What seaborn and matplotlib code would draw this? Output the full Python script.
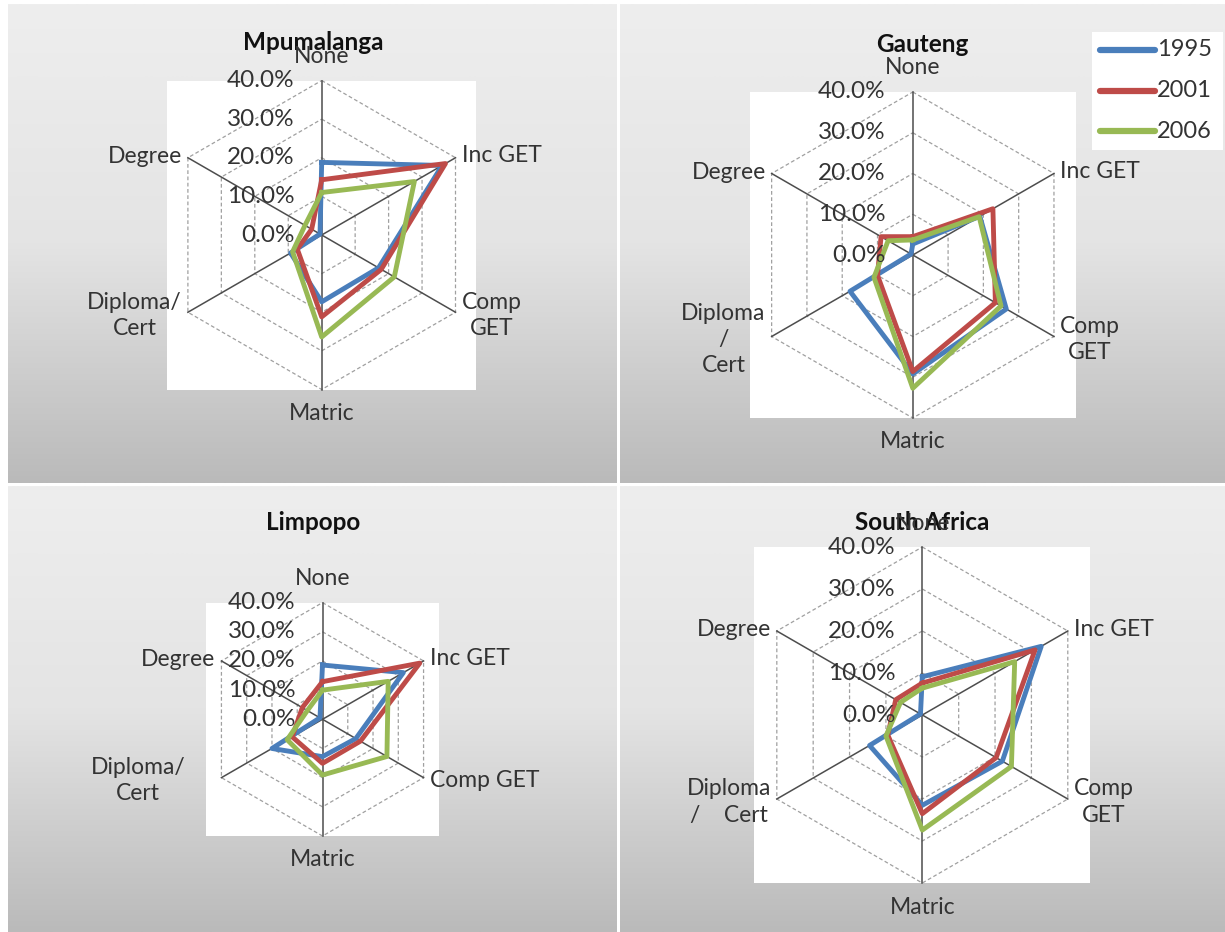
import numpy as np
import pandas as pd
import matplotlib
matplotlib.use("Agg")
import matplotlib.pyplot as plt
import seaborn as sns
from matplotlib.colors import LinearSegmentedColormap
from matplotlib.patches import Rectangle
from matplotlib.lines import Line2D

# ---- data: share of population by highest education level (%) ----
categories = ["None", "Inc GET", "Comp GET", "Matric", "Diploma/Cert", "Degree"]
years = ["1995", "2001", "2006"]
series_colors = ["#4A7EBB", "#BE4B48", "#98B954"]
radial_ticks = [0.0, 10.0, 20.0, 30.0, 40.0]

mpumalanga_1995 = [18.8, 36.0, 17.0, 17.3, 9.3, 0.5]
mpumalanga_2001 = [14.3, 37.0, 17.8, 21.2, 7.3, 3.0]
mpumalanga_2006 = [11.0, 27.7, 21.7, 26.4, 8.7, 5.0]

gauteng_1995 = [2.7, 19.0, 26.5, 29.2, 17.8, 0.5]
gauteng_2001 = [4.5, 22.7, 23.4, 28.6, 10.0, 9.0]
gauteng_2006 = [3.7, 18.8, 25.0, 32.7, 11.0, 7.0]

limpopo_1995 = [18.6, 32.0, 13.2, 12.8, 20.0, 1.0]
limpopo_2001 = [12.9, 38.5, 15.0, 15.1, 12.0, 8.0]
limpopo_2006 = [10.0, 26.0, 25.5, 19.1, 14.0, 6.0]

sa_1995 = [9.1, 32.7, 22.0, 21.5, 14.5, 0.5]
sa_2001 = [7.6, 31.0, 20.3, 23.5, 9.5, 7.3]
sa_2006 = [6.4, 25.4, 24.5, 27.4, 10.0, 6.0]

W, H = 1225, 932
plt.rcParams["font.family"] = ["Lato", "DejaVu Sans"]
TEXT = "#333333"

fig = plt.figure(figsize=(W / 100, H / 100), dpi=100)

# background layer in pixel coordinates
bg = fig.add_axes([0, 0, 1, 1], zorder=-5)
bg.set_xlim(0, W)
bg.set_ylim(H, 0)
bg.axis("off")

grad_cmap = LinearSegmentedColormap.from_list("panel", ["#eeeeee", "#e4e4e4", "#bababa"])
grad = np.linspace(0, 1, 256).reshape(-1, 1)
panel_boxes = [(8, 4, 617, 483), (620, 4, 1225, 483), (8, 486, 617, 932), (620, 486, 1225, 932)]
for (x0, y0, x1, y1) in panel_boxes:
    bg.imshow(grad, cmap=grad_cmap, aspect="auto", extent=(x0, x1, y1, y0),
              interpolation="bilinear", zorder=0)

panels = [
    dict(title="Mpumalanga", values=[mpumalanga_1995, mpumalanga_2001, mpumalanga_2006],
         center=(321.7, 235.0), radius=154.5, title_xy=(313, 43),
         comp="Comp\nGET", dip="Diploma/\nCert", dip_dx=-6),
    dict(title="Gauteng", values=[gauteng_1995, gauteng_2001, gauteng_2006],
         center=(912.8, 255.0), radius=163.0, title_xy=(922, 44),
         comp="Comp\nGET", dip="Diploma\n/\nCert", dip_dx=-6),
    dict(title="Limpopo", values=[limpopo_1995, limpopo_2001, limpopo_2006],
         center=(322.5, 719.3), radius=116.7, title_xy=(313, 523),
         comp="Comp GET", dip="Diploma/\nCert", dip_dx=-36),
    dict(title="South Africa", values=[sa_1995, sa_2001, sa_2006],
         center=(922.3, 715.0), radius=168.0, title_xy=(922, 523),
         comp="Comp\nGET", dip="Diploma\n/    Cert", dip_dx=-6),
]

n = len(categories)
theta = np.arange(n) * 2 * np.pi / n
theta_closed = np.append(theta, 2 * np.pi)
rmax = radial_ticks[-1] / 100

for p in panels:
    cx, cy = p["center"]
    R = p["radius"]
    # white plot area
    bg.add_patch(Rectangle((cx - R, cy - R), 2 * R, 2 * R, facecolor="white",
                           edgecolor="none", zorder=1))
    bg.text(p["title_xy"][0], p["title_xy"][1], p["title"], ha="center", va="center",
            fontsize=17.5, fontweight="bold", color="#111111", zorder=3)

    ax = fig.add_axes([(cx - R) / W, (H - (cy + R)) / H, 2 * R / W, 2 * R / H],
                      projection="polar")
    ax.set_facecolor("none")
    ax.set_theta_zero_location("N")
    ax.set_theta_direction(-1)
    ax.grid(False)
    ax.spines["polar"].set_visible(False)

    # hexagonal gridlines and spokes
    for t in radial_ticks[1:]:
        ax.plot(theta_closed, [t / 100] * (n + 1), color="#a0a0a0", lw=0.9,
                ls=(0, (3, 2)), clip_on=False, zorder=1)
    for th in theta:
        ax.plot([th, th], [0, rmax], color="#4d4d4d", lw=1.1, clip_on=False, zorder=2)

    # series polygons
    rows = []
    for year, vals in zip(years, p["values"]):
        closed = list(vals) + [vals[0]]
        for th, v in zip(theta_closed, closed):
            rows.append({"theta": th, "share": v / 100, "year": year})
    df = pd.DataFrame(rows)
    sns.lineplot(data=df, x="theta", y="share", hue="year", hue_order=years,
                 palette=series_colors, sort=False, estimator=None, legend=False,
                 linewidth=3.5, ax=ax)
    for ln in ax.lines[-len(years):]:
        ln.set_clip_on(False)
        ln.set_zorder(3)
    ax.set_xlabel("")
    ax.set_ylabel("")
    ax.set_xticks([])
    ax.set_yticks([])
    ax.set_ylim(0, rmax)

    # radial value labels
    for t in radial_ticks:
        ax.annotate(f"{t:.1f}%", xy=(0, t / 100), xytext=(-27, 0),
                    textcoords="offset pixels", ha="right", va="center",
                    fontsize=17.5, color=TEXT, annotation_clip=False)

    # category labels
    lab_kw = dict(textcoords="offset pixels", fontsize=16.5, color=TEXT,
                  multialignment="center", linespacing=1.3, annotation_clip=False)
    ax.annotate(categories[0], xy=(theta[0], rmax), xytext=(0, 24), ha="center", va="center", **lab_kw)
    ax.annotate(categories[1], xy=(theta[1], rmax), xytext=(6, 2), ha="left", va="center", **lab_kw)
    ax.annotate(p["comp"], xy=(theta[2], rmax), xytext=(6, -3), ha="left", va="center", **lab_kw)
    ax.annotate(categories[3], xy=(theta[3], rmax), xytext=(0, -24), ha="center", va="center", **lab_kw)
    ax.annotate(p["dip"], xy=(theta[4], rmax), xytext=(p["dip_dx"], -3), ha="right", va="center", **lab_kw)
    ax.annotate(categories[5], xy=(theta[5], rmax), xytext=(-6, 1), ha="right", va="center", **lab_kw)

# legend box in the Gauteng panel
bg.add_patch(Rectangle((1092, 32), 131, 118, facecolor="white", edgecolor="none", zorder=2))
for i, (year, col) in enumerate(zip(years, series_colors)):
    y = 50 + i * 40.7
    bg.add_line(Line2D([1100, 1155], [y, y], color=col, lw=4.5, solid_capstyle="round", zorder=3))
    bg.text(1157, y, year, ha="left", va="center", fontsize=17, color=TEXT, zorder=3)

fig.savefig("out.png", dpi=100, facecolor="white")
